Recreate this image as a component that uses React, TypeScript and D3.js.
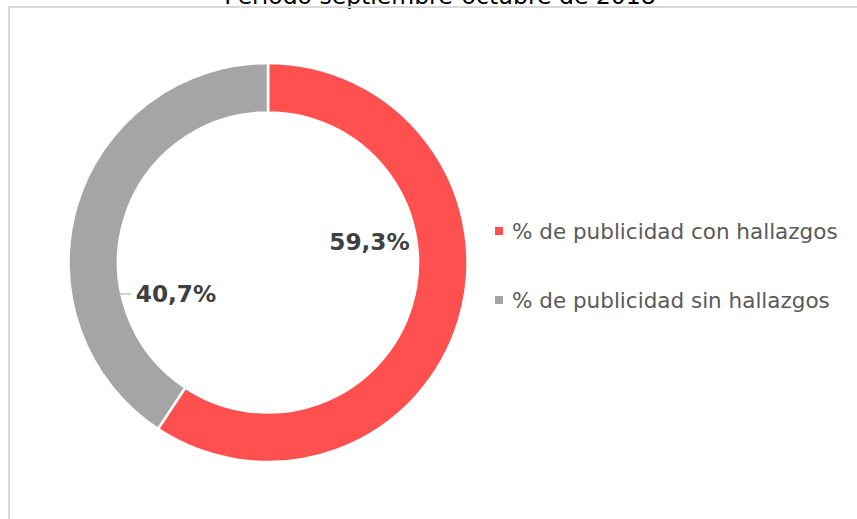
import React from "react";
import * as d3 from "d3";

const categories = ["% de publicidad con hallazgos", "% de publicidad sin hallazgos"];
const values = [59.3, 40.7];
const valueLabels = ["59,3%", "40,7%"];
const colors = ["#FF5050", "#A5A5A5"];
const title = "Periodo septiembre-octubre de 2018";

const W = 857;
const H = 519;
const cx = 268;
const cy = 262.5;
const outerR = 199.5;
const innerR = 150;
const FONT = "'DejaVu Sans', Verdana, sans-serif";

// label placements (layout)
const labelPos = [
  { x: 369.5, y: 250 },
  { x: 176, y: 302 },
];

export default function App() {
  const pie = d3.pie<number>().sort(null).value((d) => d);
  const arcs = pie(values);
  const arc = d3.arc<d3.PieArcDatum<number>>().innerRadius(innerR).outerRadius(outerR);

  return (
    <svg
      width={W}
      height={H}
      style={{ position: "absolute", left: 0, top: 0, background: "#fff" }}
    >
      <rect x={0} y={0} width={W} height={H} fill="#fff" />
      <text x={440} y={4} textAnchor="middle" fontFamily={FONT} fontSize={23.5} fill="#000">
        {title}
      </text>
      <line x1={8} y1={7} x2={W} y2={7} stroke="#D9D9D9" strokeWidth={2} />
      <line x1={9} y1={6} x2={9} y2={H} stroke="#D9D9D9" strokeWidth={2} />
      <g transform={`translate(${cx},${cy})`}>
        {arcs.map((a, i) => (
          <path key={i} d={arc(a) || ""} fill={colors[i]} stroke="#fff" strokeWidth={2.5} />
        ))}
      </g>
      <line x1={cx - innerR + 2} y1={294} x2={131} y2={294} stroke="#A6A6A6" strokeWidth={1} />
      {valueLabels.map((t, i) => (
        <text
          key={i}
          x={labelPos[i].x}
          y={labelPos[i].y}
          textAnchor="middle"
          fontFamily={FONT}
          fontWeight="bold"
          fontSize={23.2}
          fill="#404040"
        >
          {t}
        </text>
      ))}
      {categories.map((c, i) => (
        <g key={i}>
          <rect x={495} y={227 + i * 69} width={8} height={8} fill={colors[i]} />
          <text x={512} y={239 + i * 69} fontFamily={FONT} fontSize={21.5} fill="#595959">
            {c}
          </text>
        </g>
      ))}
    </svg>
  );
}
